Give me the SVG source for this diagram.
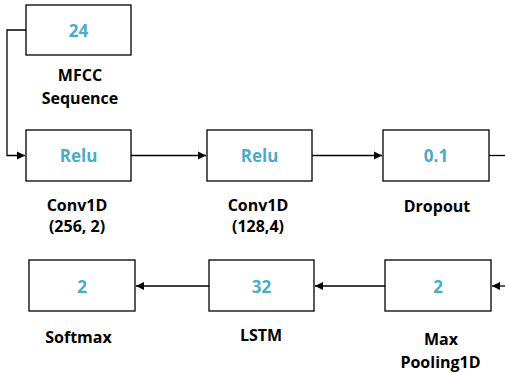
<svg xmlns="http://www.w3.org/2000/svg" width="505" height="373" viewBox="0 0 505 373">
<defs>
<marker id="ah" markerWidth="10" markerHeight="10" refX="9" refY="5" orient="auto" markerUnits="userSpaceOnUse">
<path d="M1,1 L9,5 L1,9 Z" fill="#000"/>
</marker>
<style>
.box{fill:#fff;stroke:#000;stroke-width:1.3}
.v{font-family:"Open Sans","Liberation Sans",sans-serif;font-weight:bold;font-size:17px;fill:#4BACC6;text-anchor:middle;dominant-baseline:central}
.l{font-family:"Open Sans","Liberation Sans",sans-serif;font-weight:bold;font-size:16px;fill:#000;text-anchor:middle;dominant-baseline:central}
.c{fill:none;stroke:#000;stroke-width:1.3}
</style>
</defs>
<rect width="505" height="373" fill="#fff"/>
<g id="connectors">
<path class="c" d="M26,30 H7 V155.5 H25" marker-end="url(#ah)"/>
<path class="c" d="M131,155.5 H206" marker-end="url(#ah)"/>
<path class="c" d="M312,155.5 H382" marker-end="url(#ah)"/>
<path class="c" d="M489,155.5 H505"/>
<path class="c" d="M505,286 H492" marker-end="url(#ah)"/>
<path class="c" d="M385,286 H315" marker-end="url(#ah)"/>
<path class="c" d="M209,286 H136" marker-end="url(#ah)"/>
</g>
<g id="mfcc">
<rect class="box" x="26" y="5" width="105" height="50"/>
<text class="v" x="78.5" y="30">24</text>
<text class="l" x="80" y="75">MFCC</text>
<text class="l" x="80" y="98">Sequence</text>
</g>
<g id="conv1">
<rect class="box" x="26" y="130" width="105" height="51"/>
<text class="v" x="78.5" y="155.5">Relu</text>
<text class="l" x="77" y="205">Conv1D</text>
<text class="l" x="77" y="226">(256, 2)</text>
</g>
<g id="conv2">
<rect class="box" x="207" y="130" width="105" height="51"/>
<text class="v" x="259.5" y="155.5">Relu</text>
<text class="l" x="258" y="205">Conv1D</text>
<text class="l" x="258" y="226">(128,4)</text>
</g>
<g id="dropout">
<rect class="box" x="383" y="130" width="106" height="51"/>
<text class="v" x="436" y="155.5">0.1</text>
<text class="l" x="437" y="206">Dropout</text>
</g>
<g id="maxpool">
<rect class="box" x="385" y="260" width="106" height="51"/>
<text class="v" x="438" y="286">2</text>
<text class="l" x="441" y="339">Max</text>
<text class="l" x="440.5" y="362">Pooling1D</text>
</g>
<g id="lstm">
<rect class="box" x="209" y="260" width="105" height="51"/>
<text class="v" x="261.5" y="286">32</text>
<text class="l" x="261" y="335">LSTM</text>
</g>
<g id="softmax">
<rect class="box" x="29" y="260" width="106" height="51"/>
<text class="v" x="82" y="286">2</text>
<text class="l" x="78.5" y="337">Softmax</text>
</g>
</svg>
